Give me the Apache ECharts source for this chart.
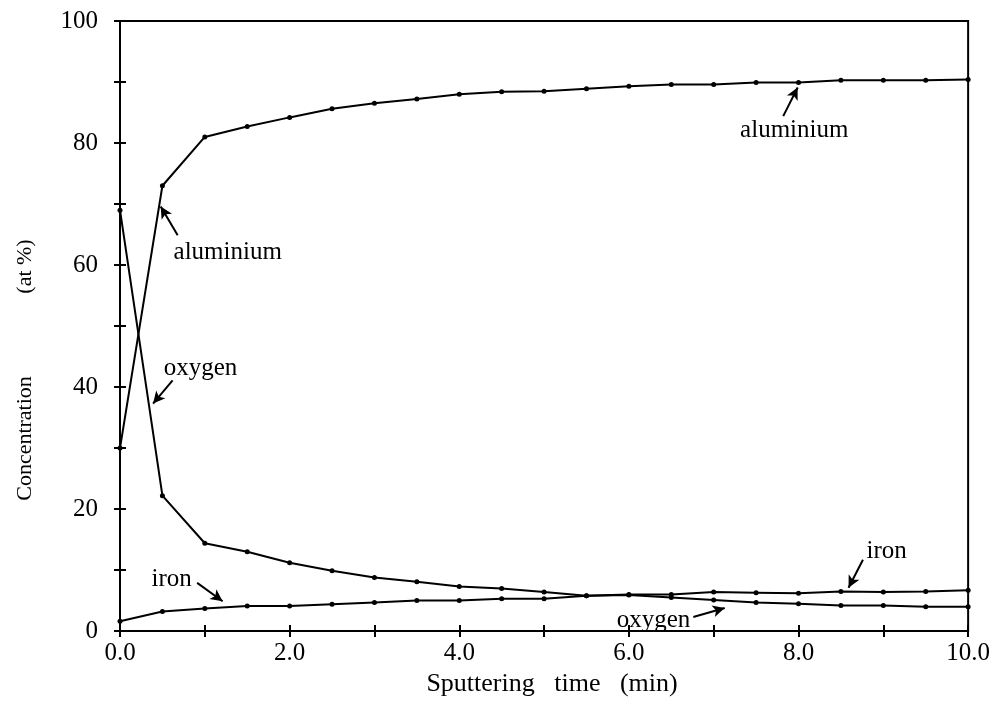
<!DOCTYPE html>
<html>
<head>
<meta charset="utf-8">
<script src="https://cdn.jsdelivr.net/npm/echarts@6/dist/echarts.min.js"></script>
<style>
html,body{margin:0;padding:0;background:#fff;}
#chart{width:993px;height:702px;}
</style>
</head>
<body>
<div id="chart"></div>
<script>
// Sputtering time (min)
var times = [0, 0.5, 1, 1.5, 2, 2.5, 3, 3.5, 4, 4.5, 5, 5.5, 6, 6.5, 7, 7.5, 8, 8.5, 9, 9.5, 10];
// Concentration (at %)
var aluminium = [30, 73, 81, 82.7, 84.2, 85.6, 86.5, 87.2, 88.0, 88.4, 88.5, 88.9, 89.3, 89.6, 89.6, 89.9, 89.9, 90.3, 90.3, 90.3, 90.4];
var oxygen    = [69, 22.2, 14.4, 13.0, 11.2, 9.9, 8.8, 8.1, 7.3, 7.0, 6.4, 5.8, 5.9, 5.5, 5.1, 4.7, 4.5, 4.2, 4.2, 4.0, 4.0];
var iron      = [1.6, 3.2, 3.7, 4.1, 4.1, 4.4, 4.7, 5.0, 5.0, 5.3, 5.3, 5.8, 6.0, 6.0, 6.4, 6.3, 6.2, 6.5, 6.4, 6.5, 6.7];

// annotation labels (data coordinates) and arrows [from, to]
var labelTexts  = ['aluminium', 'aluminium', 'oxygen', 'iron', 'iron', 'oxygen'];
var labelCoords = [[7.95, 82.0], [1.27, 62.1], [0.95, 43.1], [0.61, 8.4], [9.04, 13.0], [6.29, 1.8]];
var arrowFrom   = [[7.82, 84.4], [0.68, 64.9], [0.62, 41.1], [0.91, 7.9], [8.76, 11.7], [6.76, 2.3]];
var arrowTo     = [[7.99, 89.1], [0.48, 69.6], [0.39, 37.3], [1.21, 4.9], [8.59, 7.1], [7.13, 3.8]];

var FONT = 'Liberation Serif';

function pairs(ys) { return times.map(function (t, i) { return [t, ys[i]]; }); }
function nb(n) { return new Array(n + 1).join('\u00a0'); }

var chart = echarts.init(document.getElementById('chart'), null, {renderer: 'canvas'});

var annoLines = arrowFrom.map(function (f, i) { return [{coord: f}, {coord: arrowTo[i]}]; });
var annoPoints = labelTexts.map(function (s, i) {
  return {coord: labelCoords[i], value: s, label: {formatter: s}};
});

function lineSeries(name, ys, extra) {
  var s = {
    name: name, type: 'line', data: pairs(ys),
    symbol: 'circle', symbolSize: 5, showSymbol: true,
    lineStyle: {color: '#000', width: 2},
    itemStyle: {color: '#000'},
    silent: true, animation: false
  };
  for (var k in extra) s[k] = extra[k];
  return s;
}

var option = {
  backgroundColor: '#fff',
  animation: false,
  grid: {left: 120, right: 19, top: 21, bottom: 65, show: true, borderColor: '#000', borderWidth: 2, backgroundColor: 'transparent'},
  xAxis: [{
    type: 'value', min: 0, max: 10, interval: 1, position: 'bottom',
    name: 'Sputtering   time   (min)', nameLocation: 'middle', nameGap: 39,
    nameTextStyle: {fontFamily: FONT, fontSize: 26, color: '#000', padding: [0, 0, 0, 16]},
    axisLine: {show: true, onZero: false, lineStyle: {color: '#000', width: 2}},
    axisTick: {show: true, inside: false, length: 6, lineStyle: {color: '#000', width: 2}},
    axisLabel: {margin: 10, fontFamily: FONT, fontSize: 25, color: '#000',
      formatter: function (v) { return (Math.round(v) % 2 === 0) ? v.toFixed(1) : ''; }},
    splitLine: {show: false}
  }, {
    type: 'value', min: 0, max: 10, interval: 1, position: 'bottom',
    axisLine: {show: false, onZero: false},
    axisTick: {show: true, inside: true, length: 6, lineStyle: {color: '#000', width: 2}},
    axisLabel: {show: false}, splitLine: {show: false}
  }],
  yAxis: [{
    type: 'value', min: 0, max: 100, interval: 10, position: 'left',
    name: 'Concentration' + nb(15) + '(at %)' + nb(16), nameLocation: 'middle', nameGap: 84,
    nameTextStyle: {fontFamily: FONT, fontSize: 22, color: '#000'},
    axisLine: {show: true, onZero: false, lineStyle: {color: '#000', width: 2}},
    axisTick: {show: true, inside: false, length: 6, lineStyle: {color: '#000', width: 2}},
    axisLabel: {margin: 22, fontFamily: FONT, fontSize: 25, color: '#000',
      formatter: function (v) { return (Math.round(v) % 20 === 0) ? String(v) : ''; }},
    splitLine: {show: false}
  }, {
    type: 'value', min: 0, max: 100, interval: 10, position: 'left',
    axisLine: {show: false, onZero: false},
    axisTick: {show: true, inside: true, length: 6, lineStyle: {color: '#000', width: 2}},
    axisLabel: {show: false}, splitLine: {show: false}
  }],
  series: [
    lineSeries('aluminium', aluminium, {
      markLine: {
        silent: true, animation: false,
        symbol: ['none', 'arrow'], symbolSize: [9, 12],
        lineStyle: {color: '#000', width: 2, type: 'solid'},
        label: {show: false},
        data: annoLines
      },
      markPoint: {
        silent: true, animation: false,
        symbol: 'circle', symbolSize: 1,
        itemStyle: {color: 'rgba(0,0,0,0)'},
        label: {show: true, position: 'inside', fontFamily: FONT, fontSize: 25, color: '#000'},
        data: annoPoints
      }
    }),
    lineSeries('oxygen', oxygen, {}),
    lineSeries('iron', iron, {})
  ]
};
chart.setOption(option);
</script>
</body>
</html>
